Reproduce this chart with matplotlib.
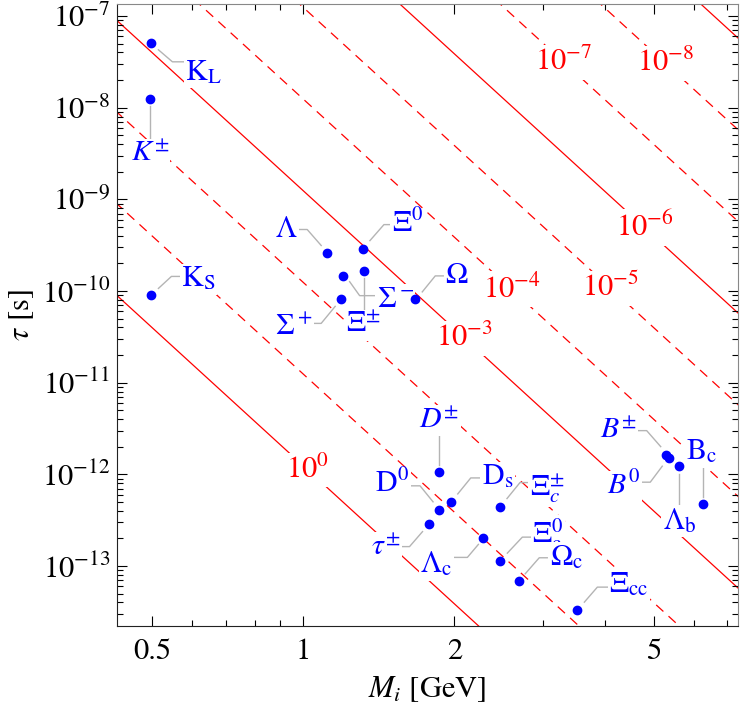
import numpy as np
import matplotlib
matplotlib.use("Agg")
import matplotlib.pyplot as plt
import matplotlib.transforms as mtransforms
from matplotlib.ticker import FixedLocator, LogLocator, NullFormatter

plt.rcParams['font.family'] = 'STIXGeneral'
plt.rcParams['mathtext.fontset'] = 'stix'
plt.rcParams['lines.scale_dashes'] = False

# hadrons: mass [GeV], lifetime [s]
labels = [r'$\mathrm{K}_\mathrm{L}$', r'$K^{\pm}$', r'$\mathrm{K}_\mathrm{S}$',
          r'$\Lambda$', r'$\Xi^0$', r'$\Sigma^+$', r'$\Sigma^-$', r'$\Xi^{\pm}$', r'$\Omega$',
          r'$D^{\pm}$', r'$\mathrm{D}^0$', r'$\mathrm{D}_\mathrm{s}$', r'$\Xi_c^{\pm}$',
          r'$\tau^{\pm}$', r'$\Lambda_\mathrm{c}$', r'$\Xi_\mathrm{c}^0$', r'$\Omega_\mathrm{c}$',
          r'$\Xi_\mathrm{cc}$', r'$B^{\pm}$', r'$B^0$', r'$\Lambda_\mathrm{b}$', r'$\mathrm{B}_\mathrm{c}$']
mass = [0.498, 0.494, 0.498,
        1.116, 1.315, 1.190, 1.198, 1.322, 1.672,
        1.867, 1.865, 1.968, 2.467,
        1.777, 2.286, 2.471, 2.695,
        3.519, 5.279, 5.366, 5.620, 6.275]
tau = [5.1e-8, 1.24e-8, 8.95e-11,
       2.63e-10, 2.90e-10, 8.1e-11, 1.47e-10, 1.65e-10, 8.2e-11,
       1.05e-12, 4.1e-13, 5.0e-13, 4.45e-13,
       2.9e-13, 2.0e-13, 1.13e-13, 6.9e-14,
       3.3e-14, 1.64e-12, 1.50e-12, 1.24e-12, 4.8e-13]

# contour lines tau = C / (g M^5)
C = 1.24e-12
exponents = [0, -1, -2, -3, -4, -5, -6, -7, -8, -9]
# where the line labels sit (mass)
label_exp = [0, -3, -4, -5, -6, -7, -8]
label_mass = [1.022, 2.10, 2.60, 4.10, 4.79, 3.31, 5.28]

# callout layout, image pixels relative to the point (x right, y down)
# (leader vertices, text offset, ha)
callouts = [
    ([(7, 7), (21, 19), (32, 19)], (34, 37), 'left'),
    ([(0, 7), (0, 39)], (0, 62), 'center'),
    ([(7, -7), (20, -19), (29, -19)], (30, -9), 'left'),
    ([(-6, -7), (-20, -23), (-28, -23)], (-30, -16), 'right'),
    ([(7, -8), (21, -24), (28, -24)], (29, -17), 'left'),
    ([(-6, 7), (-20, 24), (-28, 24)], (-29, 36), 'right'),
    ([(7, 6), (17, 20), (32, 20)], (34, 31), 'left'),
    ([(0, 7), (0, 39)], (-1, 61), 'center'),
    ([(7, -7), (20, -23), (28, -23)], (30, -16), 'left'),
    ([(0, -7), (0, -37)], (0, -45), 'center'),
    ([(-6, -8), (-19, -24), (-28, -24)], (-30, -18), 'right'),
    ([(7, -8), (20, -24), (29, -24)], (31, -18), 'left'),
    ([(7, -8), (20, -24), (28, -24)], (30, -11), 'left'),
    ([(-6, 8), (-19, 23), (-26, 23)], (-28, 31), 'right'),
    ([(-5, 6), (-16, 19), (-29, 19)], (-31, 34), 'right'),
    ([(7, -8), (22, -24), (30, -24)], (32, -18), 'left'),
    ([(6, -7), (20, -23), (28, -23)], (31, -16), 'left'),
    ([(7, -8), (20, -23), (30, -23)], (32, -18), 'left'),
    ([(-5, -8), (-19, -24), (-28, -24)], (-29, -17), 'right'),
    ([(-7, 8), (-19, 24), (-28, 24)], (-29, 36), 'right'),
    ([(0, 8), (0, 38)], (0, 63), 'center'),
    ([(0, -7), (0, -39)], (-2, -44), 'center'),
]

fig = plt.figure(figsize=(7.42, 7.13), dpi=100)
ax = fig.add_axes([117 / 742, 1 - 626 / 713, 621 / 742, 622 / 713])
ax.set_xscale('log')
ax.set_yscale('log')
ax.set_xlim(0.4252, 7.357)
ax.set_ylim(2.215e-14, 1.352e-7)

m_grid = np.geomspace(0.3, 9, 200)
for k in exponents:
    style = dict(ls='-') if k % 3 == 0 else dict(ls=(0, (7, 5)))
    ax.plot(m_grid, C / (10.0**k * m_grid**5), color='red', lw=0.9, zorder=1, **style)

for k, m in zip(label_exp, label_mass):
    ax.text(m, C / (10.0**k * m**5), r'$10^{%d}$' % k, color='red', fontsize=22,
            ha='center', va='center', zorder=2,
            bbox=dict(facecolor='white', edgecolor='none', pad=2))

for i, (lab, m, t) in enumerate(zip(labels, mass, tau)):
    verts, (tx, ty), ha = callouts[i]
    tr = mtransforms.Affine2D().scale(1, -1) + mtransforms.ScaledTranslation(m, t, ax.transData)
    vx, vy = zip(*verts)
    ax.plot(vx, vy, color='#b4b4b4', lw=1.0, transform=tr, zorder=3 + 0.01 * i)
    ax.annotate(lab, xy=(m, t), xytext=(tx, -ty), textcoords='offset pixels',
                ha=ha, va='baseline', color='blue', fontsize=21.5, zorder=3 + 0.01 * i,
                bbox=dict(facecolor='white', edgecolor='none', pad=1))

ax.plot(mass, tau, 'o', color='blue', ms=6, zorder=10)

ax.xaxis.set_major_locator(FixedLocator([0.5, 1, 2, 5]))
ax.xaxis.set_minor_locator(FixedLocator([0.6, 0.7, 0.8, 0.9, 3, 4, 6, 7]))
ax.set_xticklabels(['0.5', '1', '2', '5'])
ax.xaxis.set_minor_formatter(NullFormatter())
ax.yaxis.set_major_locator(LogLocator(base=10, numticks=20))
ax.yaxis.set_minor_locator(LogLocator(base=10, subs=np.arange(2, 10), numticks=20))
ax.yaxis.set_minor_formatter(NullFormatter())
ax.tick_params(which='both', direction='in', top=True, right=True, labelsize=22, width=0.8)
ax.tick_params(which='major', length=7)
ax.tick_params(which='minor', length=4)
ax.tick_params(axis='x', pad=9)
ax.tick_params(axis='y', pad=5)

for side in ['top', 'right']:
    ax.spines[side].set_color('#888888')
for side in ['left', 'bottom']:
    ax.spines[side].set_color('#222222')

ax.set_xlabel(r'$M_i$ [GeV]', fontsize=22, labelpad=6)
ax.set_ylabel(r'$\tau$ [s]', fontsize=22, labelpad=4)

fig.savefig('out.png', dpi=100)
